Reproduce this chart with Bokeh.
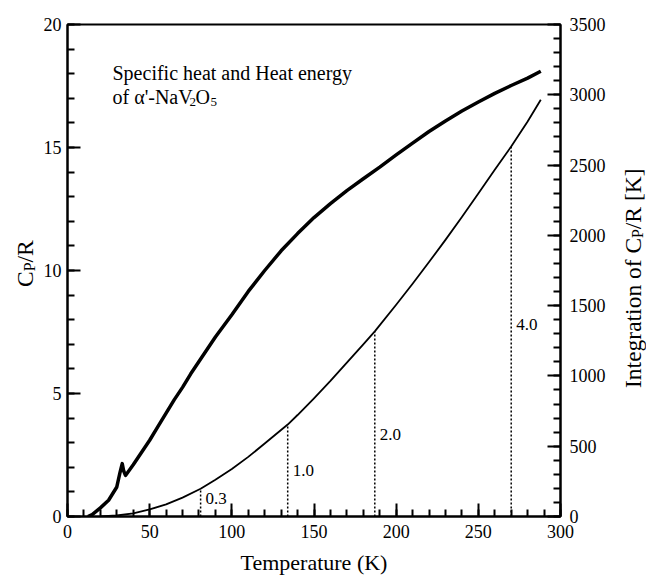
import math
from bokeh.plotting import figure
from bokeh.layouts import row
from bokeh.models import Range1d, LinearAxis, FixedTicker, Label
from bokeh.core.properties import value
from bokeh.embed import file_html
from bokeh.resources import INLINE

# ---------------- data ----------------
# Specific heat C_P/R vs temperature (left axis)
temp_cp = [12.4, 15, 20, 25, 30, 32, 33.3, 34.2, 35.3, 40, 45, 50, 55, 60, 65, 70,
           75, 80, 90, 100, 110, 120, 130, 140, 150, 160, 170, 180, 190, 200,
           210, 220, 230, 240, 250, 260, 270, 280, 288]
cp_over_r = [0.0, 0.08, 0.35, 0.66, 1.2, 1.8, 2.15, 1.85, 1.67, 2.1, 2.6, 3.1, 3.65,
             4.2, 4.75, 5.25, 5.8, 6.3, 7.3, 8.2, 9.15, 10.0, 10.8, 11.5, 12.15,
             12.72, 13.25, 13.73, 14.2, 14.7, 15.18, 15.65, 16.08, 16.48, 16.85,
             17.2, 17.52, 17.82, 18.1]

# Integration of C_P/R [K] vs temperature (right axis)
temp_int = [20, 30, 40, 50, 60, 70, 81, 90, 100, 110, 120, 134, 140, 150, 160, 170,
            180, 187, 200, 210, 220, 230, 240, 250, 260, 270, 280, 288]
integ = [0, 7, 23, 50, 86, 134, 197, 262, 338, 424, 519, 654, 722, 841, 965, 1095,
         1225, 1317, 1506, 1656, 1810, 1968, 2130, 2297, 2466, 2632, 2810, 2965]

# Marked temperatures (dotted drop lines) and their labels
mark_temp = [81, 134, 187, 270]
mark_integ = [197, 654, 1317, 2632]
mark_text = ["0.3", "1.0", "2.0", "4.0"]
mark_label_y = [128, 327, 583, 1365]

# Tick positions
x_ticks = [0, 50, 100, 150, 200, 250, 300]
x_minor = list(range(0, 301, 10))
yl_ticks = [0, 5, 10, 15, 20]
yl_minor = list(range(0, 21, 1))
yr_ticks = [0, 500, 1000, 1500, 2000, 2500, 3000, 3500]
yr_minor = list(range(0, 3501, 100))

# ---------------- layout (page pixels) ----------------
H = 577
LW, RW = 40, 28            # side figures holding the rotated axis titles
MW = 646 - LW - RW         # main figure width
FL, FR, FT, FB = 67, 560, 24, 517   # frame edges on the page
ML = FL - LW
MR = (LW + MW) - FR
MT = FT
MB = H - FB
FONT = "Liberation Serif"

p = figure(width=MW, height=H, output_backend="svg", toolbar_location=None,
           x_range=Range1d(0, 300), y_range=Range1d(0, 20),
           min_border_left=ML, min_border_right=MR,
           min_border_top=MT, min_border_bottom=MB)
p.extra_y_ranges = {"int": Range1d(0, 3500)}
p.grid.visible = False
p.outline_line_color = "black"
p.outline_line_width = 2
p.background_fill_color = "white"
p.border_fill_color = "white"

p.xaxis[0].ticker = FixedTicker(ticks=x_ticks, minor_ticks=x_minor)
p.yaxis[0].ticker = FixedTicker(ticks=yl_ticks, minor_ticks=yl_minor)
ax_r = LinearAxis(y_range_name="int", ticker=FixedTicker(ticks=yr_ticks, minor_ticks=yr_minor))
p.add_layout(ax_r, "right")


def style(ax, standoff):
    ax.major_tick_in = 13
    ax.major_tick_out = 0
    ax.minor_tick_in = 7
    ax.minor_tick_out = 0
    ax.axis_line_width = 2
    ax.major_tick_line_width = 2
    ax.minor_tick_line_width = 2
    ax.axis_line_color = "black"
    ax.major_tick_line_color = "black"
    ax.minor_tick_line_color = "black"
    ax.major_label_text_font = FONT
    ax.major_label_text_font_size = "18px"
    ax.major_label_text_color = "black"
    ax.major_label_standoff = standoff


style(p.xaxis[0], 8)
style(p.yaxis[0], 6)
style(ax_r, 9)
p.yaxis[0].axis_label = None
ax_r.axis_label = None
xa = p.xaxis[0]
xa.axis_label = "Temperature (K)"
xa.axis_label_text_font = FONT
xa.axis_label_text_font_size = "22px"
xa.axis_label_text_font_style = "normal"
xa.axis_label_text_color = "black"
xa.axis_label_standoff = 9

# ---------------- glyphs ----------------
p.line(temp_cp, cp_over_r, line_color="black", line_width=3.5, line_join="round")
p.line(temp_int, integ, y_range_name="int", line_color="black", line_width=1.8,
       line_join="round")
p.segment(x0=mark_temp, y0=[0] * len(mark_temp), x1=mark_temp, y1=mark_integ,
          y_range_name="int", line_color="black", line_width=1.5, line_dash="2 2")
p.text(x=mark_temp, y=mark_label_y, text=mark_text, y_range_name="int",
       x_offset=5, text_baseline="middle", text_align="left",
       text_font=value(FONT), text_font_size="17px", text_color="black")

# ---------------- title block inside the frame ----------------
XS = 300 / (FR - FL)
YS = 20 / (FB - FT)


def lab_main(px, py, text, size):
    p.add_layout(Label(x=(px - FL) * XS, y=(FB - py) * YS, text=text,
                       text_font=FONT, text_font_size=size, text_color="black",
                       text_align="left", text_baseline="alphabetic"))


lab_main(112, 72.7, "Specific heat and Heat energy", "20px")
lab_main(112, 96.7, "of \u03b1'-NaV", "20px")
lab_main(189, 101.5, "2", "13px")
lab_main(195, 96.7, "O", "20px")
lab_main(210, 101.5, "5", "13px")


# ---------------- side figures with rotated axis titles ----------------
# In a row, Bokeh aligns the frames of the figures, so each side figure's frame
# spans the same page rows (FT..FB) as the main frame.
def side_fig(x0, w):
    f = figure(width=w, height=H, output_backend="svg", toolbar_location=None,
               x_range=Range1d(x0, x0 + w), y_range=Range1d(H - FB, H - FT),
               x_axis_location=None, y_axis_location=None,
               min_border_left=0, min_border_right=0,
               min_border_top=MT, min_border_bottom=MB)
    f.grid.visible = False
    f.outline_line_color = None
    f.background_fill_color = "white"
    f.border_fill_color = "white"
    return f


R90 = math.pi / 2


def lab_side(f, cx, cy, text, size):
    # (cx, cy): centre of the text piece in page pixels
    f.add_layout(Label(x=cx, y=H - cy, text=text, angle=R90,
                       text_font=FONT, text_font_size=size, text_color="black",
                       text_align="center", text_baseline="middle"))


left = side_fig(0, LW)
lab_side(left, 24, 279.2, "C", "23.5px")
lab_side(left, 28.6, 266.8, "P", "16px")
lab_side(left, 24, 251.3, "/R", "23.5px")

right = side_fig(LW + MW, RW)
lab_side(right, 632, 313, "Integration of C", "23.5px")
lab_side(right, 636.6, 233.5, "P", "16px")
lab_side(right, 632, 198.7, "/R [K]", "23.5px")

layout = row(left, p, right, spacing=0)
open("out.html", "w").write(file_html(layout, INLINE))
